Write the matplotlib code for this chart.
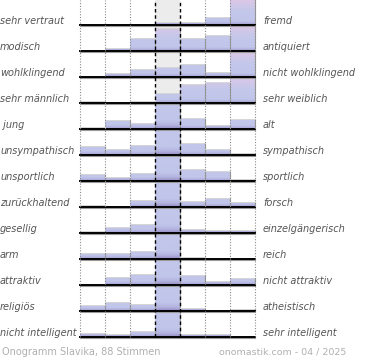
import numpy as np
import matplotlib
matplotlib.use("Agg")
import matplotlib.pyplot as plt
from matplotlib.colors import LinearSegmentedColormap
from matplotlib.transforms import blended_transform_factory

# ---- data (percent of votes per scale step, 7 steps) ----
left_labels = ["sehr vertraut", "modisch", "wohlklingend", "sehr männlich", " jung",
               "unsympathisch", "unsportlich", "zurückhaltend", "gesellig", "arm",
               "attraktiv", "religiös", "nicht intelligent"]
right_labels = ["fremd", "antiquiert", "nicht wohlklingend", "sehr weiblich", "alt",
                "sympathisch", "sportlich", "forsch", "einzelgängerisch", "reich",
                "nicht attraktiv", "atheistisch", "sehr intelligent"]
values = [
    [0, 0, 1, 3, 3, 7, 86],
    [0, 3, 13, 22, 13, 16, 33],
    [1, 4, 7, 9, 13, 5, 61],
    [2, 0, 2, 9, 19, 20, 48],
    [2, 8, 6, 61, 10, 4, 9],
    [9, 6, 10, 55, 12, 6, 2],
    [7, 4, 8, 57, 12, 10, 2],
    [2, 1, 7, 70, 6, 9, 5],
    [2, 6, 9, 73, 4, 3, 3],
    [6, 6, 8, 78, 2, 0, 0],
    [0, 8, 11, 60, 10, 4, 7],
    [6, 9, 7, 72, 3, 1, 2],
    [4, 3, 6, 80, 3, 3, 1],
]
footer_left = "Onogramm Slavika, 88 Stimmen"
footer_right = "onomastik.com - 04 / 2025"

ROW = 26.0          # percent that fills one row
n_rows = len(values)
n_cols = 7
MID = 3

W, H = 370, 360
fig = plt.figure(figsize=(W / 100, H / 100), dpi=100)
px = 1.0 / ROW  # one pixel in row units (1 row = 26 px)

ax_left_px, ax_right_px = 77.5, 257.5
ax_top_px, ax_bot_px = 0, 343
ax = fig.add_axes([ax_left_px / W, (H - ax_bot_px) / H,
                   (ax_right_px - ax_left_px) / W, (ax_bot_px - ax_top_px) / H])
ax.set_axis_off()

cmap = LinearSegmentedColormap.from_list("bar", [
    (0.0, "#948cc4"), (0.06, "#b2b2de"), (0.14, "#c0c5ea"),
    (0.55, "#c4c8ea"), (0.8, "#d2c7e8"), (1.0, "#dec6e6")])

top_y = (n_rows - 1) + 25 * px
# neutral band
ax.fill_between([MID, MID + 1], 0, top_y, color="#ececec", lw=0, zorder=0)

for i, row in enumerate(values):
    base = (n_rows - 1) - i
    for j, v in enumerate(row):
        if v <= 0:
            continue
        hv = min(v, ROW) / ROW
        if i == 0:
            hv = min(hv, 25 * px)
        if j == MID and v > ROW:
            tmax = hv * 0.45
        else:
            tmax = hv
        t = np.linspace(0, tmax, 64).reshape(-1, 1)
        ax.imshow(t, cmap=cmap, vmin=0, vmax=1, origin="lower", aspect="auto",
                  extent=[j, j + 1, base, base + hv], interpolation="bilinear", zorder=2)
        ax.plot([j + 1, j + 1], [base, base + hv], color="#9c9c9c", lw=0.8, zorder=3)
        if v < ROW:
            ax.plot([j, j + 1], [base + hv + 0.5 * px] * 2, color="#d6d6d6", lw=0.7, zorder=3)
    ax.plot([0, n_cols], [base - 1.2 * px] * 2, color="#9a9a9a", lw=0.8, zorder=4)
    ax.plot([0, n_cols], [base, base], color="black", lw=1.4, zorder=5)

for xg in [0, 1, 2, 5, 6, 7]:
    ax.plot([xg, xg], [0, top_y], color="#8a8a8a", lw=0.8, ls=(0, (1, 1.5)), zorder=6)
for xg in [MID, MID + 1]:
    ax.plot([xg, xg], [0, top_y], color="black", lw=1.0, ls=(0, (2.5, 2)), zorder=6)

ax.set_xlim(-0.1, n_cols + 0.1)
ax.set_ylim(-6 * px, top_y)

tr = blended_transform_factory(fig.transFigure, ax.transData)
for i in range(n_rows):
    base = (n_rows - 1) - i
    yc = base + 4.5 * px
    ax.text(0 / W, yc, left_labels[i], transform=tr, ha="left", va="center",
            fontsize=7, style="italic", color="#555555", family="DejaVu Sans")
    ax.text(263 / W, yc, right_labels[i], transform=tr, ha="left", va="center",
            fontsize=7, style="italic", color="#555555", family="DejaVu Sans")

fig.text(2 / W, 1 - 352 / H, footer_left, ha="left", va="center", fontsize=7,
         color="#b0b0b0", family="DejaVu Sans")
fig.text(219 / W, 1 - 352 / H, footer_right, ha="left", va="center", fontsize=6.8,
         color="#b0b0b0", family="DejaVu Sans")

fig.savefig("out.png", dpi=100)
